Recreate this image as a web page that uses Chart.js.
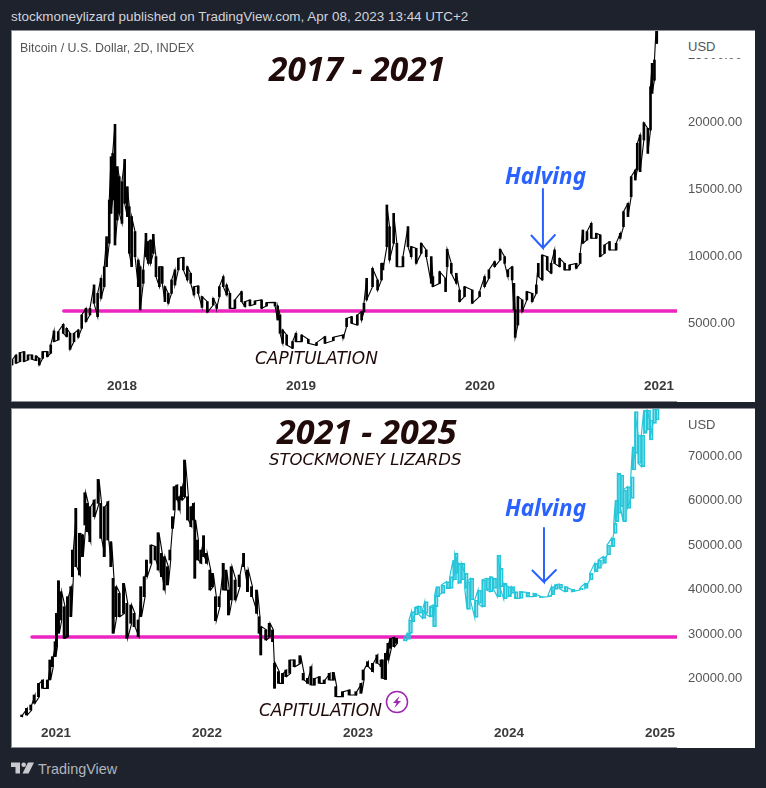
<!DOCTYPE html>
<html>
<head>
<meta charset="utf-8">
<script src="https://cdn.jsdelivr.net/npm/chart.js@4"></script>
<style>
html,body{margin:0;padding:0;background:#1e222d;width:766px;height:788px;overflow:hidden}
.pane{position:absolute;left:11px;width:744px;background:#fff}
.pane canvas{position:absolute;left:0;top:0}
.edge{position:absolute;background:#8c8f97}
.t{position:absolute;white-space:nowrap;font-family:"Noto Sans",sans-serif;color:#210a0a;line-height:1}
.big{font-weight:700;font-style:italic}
.cap{font-family:"DejaVu Sans",sans-serif;font-style:italic}
.half{font-size:22.5px;font-weight:700;font-style:italic;color:#2962ff}
.usd{position:absolute;background:#fff}
.usdtxt{font-family:"Liberation Sans",sans-serif;font-size:13px;color:#555;font-style:normal;font-weight:400}
</style>
</head>
<body>
<div class="t" style="left:11px;top:9px;font:13.45px 'Liberation Sans',sans-serif;color:#d1d4dc">stockmoneylizard published on TradingView.com, Apr 08, 2023 13:44 UTC+2</div>

<div class="pane" style="top:30px;height:372px"><canvas id="chart1"></canvas></div>
<div class="pane" style="top:408px;height:340px"><canvas id="chart2"></canvas></div>

<div class="edge" style="left:11px;top:30px;width:744px;height:1px"></div>
<div class="edge" style="left:11px;top:30px;width:1px;height:372px"></div>
<div class="edge" style="left:11px;top:401px;width:666px;height:1px"></div>
<div class="edge" style="left:11px;top:408px;width:744px;height:1px"></div>
<div class="edge" style="left:11px;top:408px;width:1px;height:340px"></div>
<div class="edge" style="left:11px;top:747px;width:666px;height:1px"></div>

<div class="usd" style="left:677px;top:31px;width:78px;height:27px"></div>
<div class="t usdtxt" style="left:688px;top:40px">USD</div>
<div class="t usdtxt" style="left:688px;top:418px">USD</div>
<div class="t" style="left:20px;top:41px;font:12.4px 'Liberation Sans',sans-serif;color:#555">Bitcoin / U.S. Dollar, 2D, INDEX</div>

<div class="t big" style="left:269px;top:52px;font-size:33.6px">2017 - 2021</div>
<div class="t big" style="left:277px;top:414px;font-size:34.2px">2021 - 2025</div>
<div class="t cap" style="left:269px;top:452px;font-size:16.5px">STOCKMONEY LIZARDS</div>
<div class="t cap" style="left:255px;top:350px;font-size:17px">CAPITULATION</div>
<div class="t cap" style="left:259px;top:702px;font-size:17px">CAPITULATION</div>
<div class="t half" style="left:505px;top:165px">Halving</div>
<div class="t half" style="left:505px;top:497px">Halving</div>

<svg style="position:absolute;left:385px;top:690px" width="24" height="24" viewBox="0 0 24 24">
<circle cx="12" cy="12" r="10.5" fill="none" stroke="#9c27b0" stroke-width="1.5"/>
<path d="M14.5 6 L8 13 H11.5 L9.5 18 L16 11 H12.5 Z" fill="#9c27b0"/>
</svg>

<svg style="position:absolute;left:11px;top:762px" width="23" height="12" viewBox="0 0 23 12">
<path d="M0 0.5H9V11.5H4.5V5H0Z M17 0.5H23L17.5 11.5H11.5Z" fill="#c8cad0"/>
<circle cx="12.7" cy="2.8" r="2.3" fill="#c8cad0"/>
</svg>
<div class="t" style="left:38px;top:761px;font:14.4px 'Liberation Sans',sans-serif;color:#b2b5be">TradingView</div>

<script>
// ===== 2017 - 2021 PRICE =====
let dates1=[2017.386,2017.408,2017.430,2017.453,2017.475,2017.497,2017.520,2017.538,2017.557,2017.583,
2017.602,2017.620,2017.644,2017.672,2017.691,2017.710,2017.732,2017.756,2017.775,2017.799,
2017.821,2017.844,2017.864,2017.883,2017.901,2017.914,2017.929,2017.939,2017.948,2017.961,
2017.974,2017.985,2018.000,2018.015,2018.030,2018.041,2018.054,2018.073,2018.091,2018.102,
2018.119,2018.134,2018.147,2018.160,2018.175,2018.190,2018.209,2018.225,2018.240,2018.259,
2018.277,2018.296,2018.315,2018.343,2018.365,2018.384,2018.402,2018.426,2018.447,2018.477,
2018.510,2018.529,2018.544,2018.566,2018.585,2018.603,2018.631,2018.668,2018.687,2018.715,
2018.743,2018.780,2018.808,2018.855,2018.870,2018.883,2018.898,2018.920,2018.953,2018.972,
2019.004,2019.041,2019.087,2019.134,2019.181,2019.236,2019.255,2019.283,2019.315,2019.339,
2019.352,2019.367,2019.400,2019.428,2019.450,2019.458,2019.480,2019.495,2019.518,2019.536,
2019.570,2019.598,2019.616,2019.644,2019.672,2019.700,2019.728,2019.737,2019.775,2019.808,
2019.817,2019.840,2019.868,2019.886,2019.914,2019.957,2019.998,2020.026,2020.050,2020.082,
2020.113,2020.138,2020.156,2020.180,2020.190,2020.197,2020.212,2020.236,2020.262,2020.292,
2020.315,2020.326,2020.348,2020.376,2020.398,2020.417,2020.445,2020.473,2020.501,2020.538,
2020.560,2020.575,2020.598,2020.622,2020.650,2020.672,2020.696,2020.724,2020.761,2020.784,
2020.802,2020.827,2020.845,2020.868,2020.879,2020.895,2020.916,2020.938,2020.953,2020.962,
2020.975,2020.988]
let highs1=[2240,2610,2790,2860,2610,2610,2540,2360,2860,2860,
3360,4400,4350,4900,4600,4230,4230,4480,5600,6090,
6090,7840,7210,8330,9200,11440,14180,17410,17660,19830,
16670,15920,15550,17210,15170,13680,12940,11820,9700,9200,
8960,11690,11070,11190,11620,9950,9200,9200,7710,7210,
8210,8960,9830,9900,9200,8710,7710,7760,6970,6590,
6840,6340,7710,8460,7840,7210,6720,7340,6590,6720,
6640,6720,6520,6540,6270,5600,4480,4100,3610,4230,
4100,3780,3530,3980,3930,4100,5350,5470,5600,5850,
6470,8330,9080,8210,9450,9450,13810,12190,13180,10950,
9950,12190,10700,10570,10950,10450,9950,8460,8830,8330,
10500,9450,8710,7460,7710,7460,7340,8460,8960,9580,
10500,9950,8960,9200,7960,5970,6970,6720,7340,7210,
7840,9450,10070,9950,9450,10450,9830,9450,9330,9450,
10200,11940,11820,12440,11690,11570,10820,11070,10950,11690,
13310,13930,15920,16420,18410,19030,19950,19530,22640,24380,
24630,28000]
let lows1=[1870,1990,2110,2110,2240,2290,2190,1870,2360,2490,
2740,3610,3730,4230,3980,3030,3610,3930,4600,5100,
5600,6470,5470,6840,7710,9200,10950,13180,14180,10820,
12690,13180,12440,13930,12940,10200,9200,9950,7710,5970,
7960,9950,9450,9450,10200,8460,7710,7960,6590,6470,
7210,7840,8960,8960,8210,7960,7090,7210,6170,5800,
6340,6090,6970,7710,7090,6090,6090,6590,6220,6290,
6390,6090,6270,6270,5220,4230,3480,3360,3110,3610,
3610,3480,3330,3480,3680,3860,4730,4980,4850,5220,
5850,6720,7710,7460,8210,8960,10700,9700,10950,9200,
9200,10700,9950,9450,10200,9950,7960,7710,7960,7340,
9200,8710,7960,6590,6970,6470,6970,7710,8330,9200,
9700,9450,8460,8210,5970,3930,4850,5850,6720,6590,
7210,8460,8210,8960,8710,9450,9200,8960,8960,9080,
9450,10950,11190,11320,11320,9950,10200,10450,10450,11320,
12190,12940,14430,15670,16420,16290,18660,17660,19400,22140,
23120,25870]
let lineDate1=[2017.675,2021.101]
let lineLevel1=[5900,5900]
let priceTicks1=[5000,10000,15000,20000,25000]
let yearTicks1=[2018,2019,2020,2021]
let arrowDates1=[2020.352,2020.352,2020.285,2020.352,2020.419]
let arrowLevels1=[15000,10600,11570,10600,11570]

// ===== 2021 - 2025 PRICE =====
let dates2=[2020.779,2020.810,2020.839,2020.861,2020.890,2020.916,2020.949,2020.965,2020.982,2021.000,
2021.009,2021.022,2021.038,2021.060,2021.082,2021.104,2021.115,2021.137,2021.161,2021.181,
2021.197,2021.214,2021.230,2021.258,2021.285,2021.302,2021.325,2021.349,2021.369,2021.384,
2021.402,2021.424,2021.453,2021.475,2021.501,2021.523,2021.550,2021.567,2021.590,2021.605,
2021.634,2021.662,2021.682,2021.704,2021.722,2021.744,2021.760,2021.777,2021.788,2021.806,
2021.821,2021.837,2021.857,2021.877,2021.899,2021.916,2021.925,2021.943,2021.965,2021.983,
2022.002,2022.025,2022.042,2022.062,2022.086,2022.113,2022.131,2022.148,2022.166,2022.192,
2022.219,2022.248,2022.274,2022.301,2022.334,2022.351,2022.362,2022.395,2022.418,2022.440,
2022.453,2022.479,2022.506,2022.528,2022.554,2022.583,2022.621,2022.643,2022.671,2022.694,
2022.716,2022.749,2022.782,2022.815,2022.842,2022.859,2022.903,2022.947,2022.992,2023.025,
2023.040,2023.069,2023.102,2023.131,2023.159,2023.166,2023.188,2023.204,2023.221,2023.243,
2023.261]
let highs2=[11800,13300,14050,16290,18910,19660,19660,24160,24910,28280,
34640,41980,39510,36140,38390,40640,48870,58240,52620,52250,
61760,59360,58610,60110,64750,59360,58610,59740,50750,42510,
40640,39140,41380,36890,36520,34640,33150,40640,42880,46630,
50000,49620,52770,48130,47380,45130,48870,56360,63110,63480,
60860,63110,69100,60860,58610,59360,55620,51120,48870,52100,
48130,44380,43630,38390,38390,45880,44380,39890,45130,42130,
43260,48130,44380,40640,39890,33890,31650,30900,32400,30900,
23410,21540,21160,21910,24160,24160,25130,21160,20040,22660,
20040,20410,19660,21160,21390,18170,17040,17420,17040,18910,
21910,23780,23410,25280,24160,24160,25660,27900,29030,29250,
29030]
let lows2=[11420,11800,12920,14420,15920,17790,17790,19660,22660,24910,
27150,30150,33150,29030,29400,33890,42880,45130,43260,47380,
54490,52990,50750,56360,59360,51500,47380,51120,45130,30150,
33890,33890,34640,29030,32400,31650,29400,33890,38390,42880,
45880,46630,44380,42880,39890,41010,46630,53740,57860,60110,
57860,60110,60860,55620,54120,55620,42510,46630,45880,47380,
45880,39890,40640,33000,36140,39890,39890,34270,37640,37640,
40640,45130,39510,38390,34640,30150,25280,28650,29400,28280,
17790,18910,18910,20410,21160,22660,23410,19660,18910,18540,
18540,18910,18910,19660,19660,15920,15920,16290,16290,16670,
19660,22660,21540,23410,22660,20040,19810,24160,26780,27150,
27900]

let forecastDates=[2023.303,2023.325,2023.338,2023.354,2023.376,2023.398,2023.427,2023.442,2023.475,2023.497,
2023.508,2023.519,2023.552,2023.586,2023.608,2023.630,2023.641,2023.663,2023.685,2023.707,
2023.722,2023.744,2023.773,2023.795,2023.822,2023.850,2023.873,2023.895,2023.923,2023.939,
2023.965,2023.994,2024.016,2024.038,2024.071,2024.115,2024.160,2024.204,2024.259,2024.281,
2024.303,2024.332,2024.369,2024.414,2024.469,2024.502,2024.535,2024.568,2024.590,2024.623,
2024.650,2024.679,2024.694,2024.705,2024.718,2024.738,2024.756,2024.784,2024.807,2024.818,
2024.833,2024.855,2024.877,2024.893,2024.915,2024.932,2024.954,2024.972]
let forecastHighs=[28950,30150,33150,35020,35990,36290,35390,37270,36140,36520,
38760,40640,41010,41760,42880,46630,48130,45880,45880,43630,
41760,42510,37640,39890,42130,42510,42880,42510,47750,44760,
41380,40640,40640,39510,39510,39360,39140,38540,38760,40640,
41010,41240,40640,40040,40260,41380,43630,45880,46630,47380,
50000,51500,54870,60110,66100,65730,62360,63110,65350,72090,
79960,74720,74720,80330,80330,78090,80710,80710]
let forecastLows=[28500,28800,30150,32770,34270,34640,33520,34640,33890,31650,
36140,38390,39140,40260,40260,42130,43630,41380,42130,40260,
35540,37640,33750,36890,36140,39890,39510,40260,38390,40640,
37860,38390,39140,38010,38010,38390,38390,38240,38390,38760,
40040,40260,39510,39510,39890,40260,42130,44010,44760,45880,
47750,49620,52620,55240,57110,58610,55240,58240,60490,66850,
70600,68350,67600,75090,75840,73590,77340,78090]
let lineDate2=[2020.841,2025.113]
let lineLevel2=[29330,29330]
let priceTicks2=[20000,30000,40000,50000,60000,70000]
let yearTicks2=[2021,2022,2023,2024,2025]
let arrowDates2=[2024.232,2024.232,2024.152,2024.232,2024.311]
let arrowLevels2=[53820,41690,44380,41690,44380]

// candles are too thin to draw one by one, so walk up and down through the wicks
function zigzag(dates,highs,lows){
    let pts=[]
    dates.forEach((d,i)=>{
        if(i%2==0){
            pts.push({x:d,y:lows[i]})
            pts.push({x:d,y:highs[i]})
        }else{
            pts.push({x:d,y:highs[i]})
            pts.push({x:d,y:lows[i]})
        }
    })
    return pts
}

function pairs(xs,ys){
    return xs.map((x,i)=>({x:x,y:ys[i]}))
}

function lineSet(data,color,width,order){
    return {type:'line',data:data,borderColor:color,borderWidth:width,pointRadius:0,tension:0,order:order,
        borderCapStyle:'round',borderJoinStyle:'miter'}
}

function barSet(dates,highs,lows,fill,stroke,thick,order){
    return {type:'bar',data:dates.map((d,i)=>({x:d,y:[lows[i],highs[i]]})),
        backgroundColor:fill,borderColor:stroke,borderWidth:stroke?1:0,borderSkipped:false,barThickness:thick,order:order}
}

// the label overhang padding would push the pane in, the plot has to fill it
function noPadding(s){
    s.paddingTop=0
    s.paddingBottom=0
    s.paddingLeft=0
    s.paddingRight=0
}

function drawPane(id,w,h,axisH,xMin,xMax,yMin,yMax,xTicks,yTicks,datasets){
    let canvas=document.getElementById(id)
    canvas.width=w
    canvas.height=h
    canvas.style.width=w+'px'
    canvas.style.height=h+'px'
    return new Chart(canvas,{
        type:'line',
        data:{datasets:datasets},
        options:{
            responsive:false,
            animation:false,
            layout:{padding:0},
            plugins:{legend:{display:false},tooltip:{enabled:false}},
            scales:{
                x:{
                    type:'linear',min:xMin,max:xMax,offset:false,
                    grid:{display:false,drawTicks:false},border:{display:false},
                    afterBuildTicks:s=>{s.ticks=xTicks.map(v=>({value:v}))},
                    afterFit:s=>{s.height=axisH;noPadding(s)},
                    ticks:{
                        autoSkip:false,maxRotation:0,padding:6,color:'#3a3a3a',
                        font:{family:'Liberation Sans',size:13.5,weight:'bold'},
                        callback:v=>String(v)
                    }
                },
                y:{
                    type:'linear',position:'right',min:yMin,max:yMax,
                    grid:{display:false,drawTicks:false},border:{display:false},
                    afterBuildTicks:s=>{s.ticks=yTicks.map(v=>({value:v}))},
                    afterFit:s=>{s.width=78;noPadding(s)},
                    ticks:{
                        autoSkip:false,padding:11,color:'#555',
                        font:{family:'Liberation Sans',size:13},
                        callback:v=>v.toFixed(2)
                    }
                }
            }
        }
    })
}

drawPane('chart1',744,372,30,2017.380,2021.101,1340,26870,yearTicks1,priceTicks1,[
    barSet(dates1,highs1,lows1,'#000',null,2,1),
    lineSet(zigzag(dates1,highs1,lows1),'#000',1.1,1),
    lineSet(pairs(lineDate1,lineLevel1),'#ec24c0',3.5,2),
    lineSet(pairs(arrowDates1,arrowLevels1),'#2962ff',2,3)
])

drawPane('chart2',744,340,29,2020.702,2025.113,10900,80790,yearTicks2,priceTicks2,[
    barSet(dates2,highs2,lows2,'#000',null,2,1),
    lineSet(zigzag(dates2,highs2,lows2),'#000',1.1,1),
    barSet(forecastDates,forecastHighs,forecastLows,'rgba(38,198,218,0.45)','#26c6da',3.5,2),
    lineSet(zigzag(forecastDates,forecastHighs,forecastLows),'#26c6da',1.2,2),
    lineSet(pairs(lineDate2,lineLevel2),'#ec24c0',3.5,3),
    lineSet(pairs(arrowDates2,arrowLevels2),'#2962ff',2,4)
])
</script>
</body>
</html>
